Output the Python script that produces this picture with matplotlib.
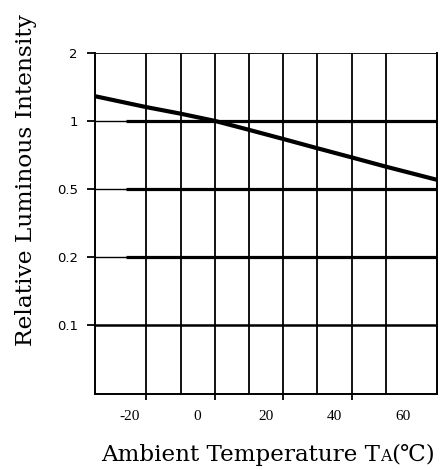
import numpy as np
import matplotlib
matplotlib.use("Agg")
import matplotlib.pyplot as plt

# data
temp = [-30, -15, -5, 5, 15, 25, 35, 45, 55, 70]
intensity = [1.285, 1.15, 1.076, 1.0, 0.913, 0.832, 0.757, 0.690, 0.628, 0.549]

y_levels = [0.05, 0.1, 0.2, 0.5, 1, 2]
y_ticks = [0.1, 0.2, 0.5, 1, 2]
y_ticklabels = ['0.1', '0.2', '0.5', '1', '2']
x_labels = ['-20', '0', '20', '40', '60']
x_label_vals = [-20, 0, 20, 40, 60]
x_grid = [-15, -5, 5, 15, 25, 35, 45, 55]
x_tickmarks = [-15, 5, 25, 45]

lv = np.log10(y_levels)
pos = np.arange(len(y_levels), dtype=float)


def fwd(v):
    v = np.clip(np.asarray(v, dtype=float), 1e-6, None)
    return np.interp(np.log10(v), lv, pos, left=-1, right=len(pos))


def inv(p):
    return 10 ** np.interp(p, pos, lv)


fig = plt.figure(figsize=(4.43, 4.70), dpi=100)
ax = fig.add_axes([95 / 443, 1 - 393.5 / 470, 342 / 443, 340.8 / 470])
ax.set_yscale('function', functions=(fwd, inv))
ax.set_xlim(-30, 70)
ax.set_ylim(0.05, 2)

# grid
for xv in x_grid:
    ax.axvline(xv, color='black', lw=1.3, zorder=1)
for yv in [0.2, 0.5, 1]:
    ax.axhline(yv, color='black', lw=1.0, zorder=1)
    ax.plot([-21, 70], [yv, yv], color='black', lw=2.3, zorder=1, solid_capstyle='butt')
ax.axhline(0.1, color='black', lw=1.8, zorder=1)
ax.axhline(2, color='black', lw=1.3, zorder=1)

ax.plot(temp, intensity, color='black', lw=3.0, zorder=3)

for s in ax.spines.values():
    s.set_linewidth(1.4)
ax.spines['top'].set_visible(False)

ax.set_yticks(y_ticks)
ax.set_yticklabels(y_ticklabels, fontfamily='DejaVu Sans', fontsize=9.5)
ax.yaxis.set_minor_locator(matplotlib.ticker.NullLocator())
ax.tick_params(axis='y', direction='out', length=5.5, width=1.3, pad=7)

ax.set_xticks(x_tickmarks)
ax.set_xticklabels([])
ax.tick_params(axis='x', direction='out', length=4, width=1.3)
for xv, lab in zip(x_label_vals, x_labels):
    ax.text(xv, -0.077, lab, transform=ax.get_xaxis_transform(), ha='center', va='baseline',
            fontsize=11, fontfamily='Liberation Serif')

fig.text(26 / 443, 1 - 180 / 470, 'Relative Luminous Intensity', rotation=90,
         ha='center', va='center', fontsize=16.8, fontfamily='DejaVu Serif')

# x axis title built from pieces so the "A" is small
fig.canvas.draw()
r = fig.canvas.get_renderer()
x0 = 101 / 443
yb = 1 - 461 / 470
t1 = fig.text(x0, yb, 'Ambient Temperature T', fontsize=16.6, fontfamily='DejaVu Serif', va='baseline')
bb = t1.get_window_extent(r)
t2 = fig.text(bb.x1 / fig.bbox.width, yb, 'A', fontsize=11.5, fontfamily='DejaVu Serif', va='baseline')
bb2 = t2.get_window_extent(r)
fig.text(bb2.x1 / fig.bbox.width, yb, '(\u2103)', fontsize=16.6,
         fontfamily=['DejaVu Serif'], va='baseline', fontweight='light')

fig.savefig('out.png', dpi=100)
